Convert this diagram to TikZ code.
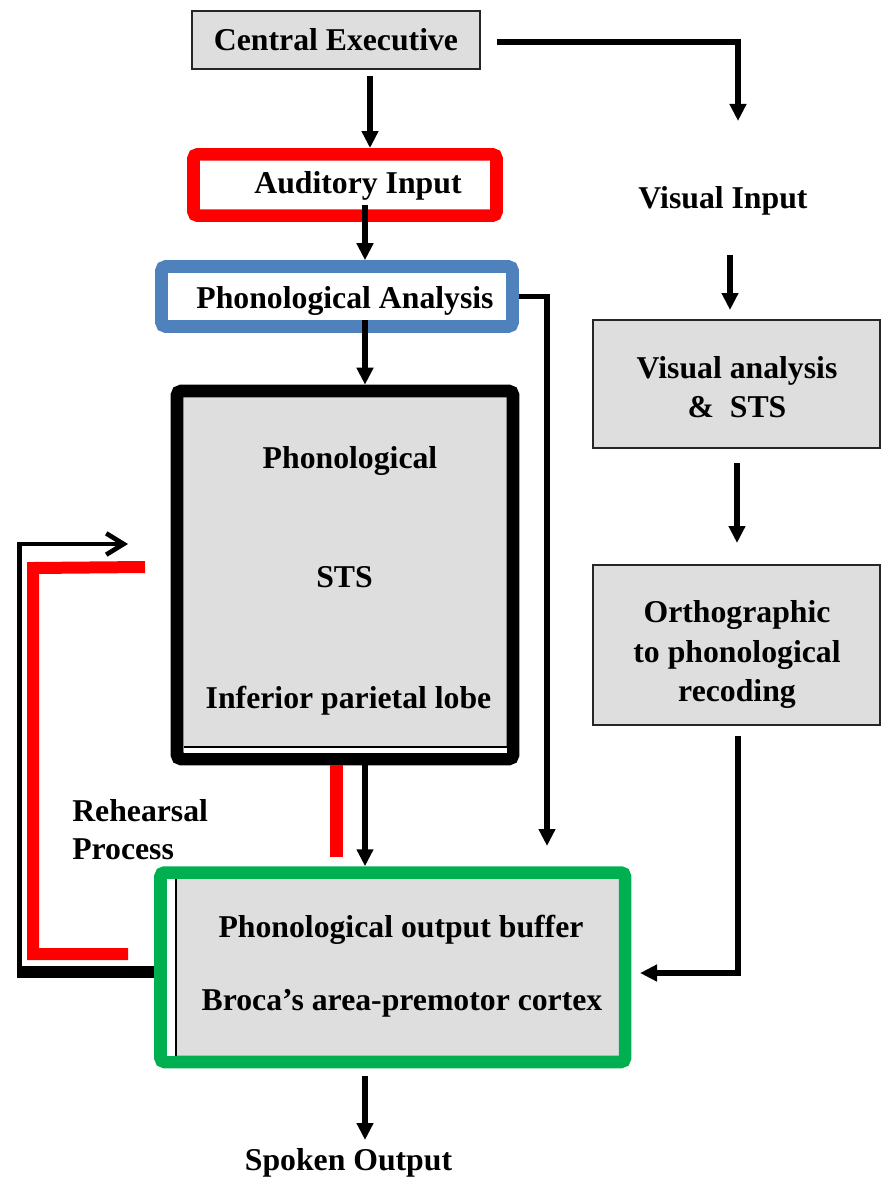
\documentclass[tikz,border=0pt]{standalone}
\usepackage{fontspec}
\setmainfont{Liberation Serif}
\usetikzlibrary{arrows.meta}
\definecolor{boxgray}{HTML}{DEDEDE}
\definecolor{inred}{HTML}{FF0000}
\definecolor{anblue}{HTML}{4F81BD}
\definecolor{outgreen}{HTML}{00B050}

\begin{document}
\begin{tikzpicture}[x=0.75pt,y=-0.75pt,
  lbl/.style={font=\fontsize{23.8}{29.6}\selectfont\bfseries, inner sep=0pt, align=center},
  greybox/.style={draw=black!85, line width=1.5pt, fill=boxgray, inner sep=0pt},
  heavybox/.style={line width=9.4pt, rounded corners=3pt, inner sep=0pt},
  arr/.style={line width=3.8pt, -{Triangle[length=12.75pt,width=12pt]}},
  loopArr/.style={line width=3.5pt, -{Straight Barb[length=13pt,width=16pt]}},
  redline/.style={draw=inred, line width=9.5pt},
]
\useasboundingbox (0,0) rectangle (885,1177);

% ---- boxes ----
\node[greybox, lbl, minimum width=216pt, minimum height=43.5pt] (ce) at (336,40) {Central Executive};

\node[heavybox, draw=inred, minimum width=227.25pt, minimum height=46pt] (ai) at (345,185) {};
\node[lbl, anchor=base] (aitext) at (358,193.5) {Auditory Input};

\node[heavybox, draw=anblue, minimum width=263.25pt, minimum height=45pt] (pa) at (337,296.5) {};
\node[lbl, anchor=base] (patext) at (345,308.5) {Phonological Analysis};

% phonological store
\node[heavybox, draw=black, fill=boxgray, minimum width=252pt, minimum height=276pt] (big) at (345,575) {};
\fill[white] (183.5,747) rectangle (506.5,752.5);
\draw[line width=1.5pt] (183.5,746.5) -- (506.5,746.5);
\node[lbl, anchor=base] (bigA) at (350,468.5) {Phonological};
\node[lbl, anchor=base] (bigB) at (344.5,587.5) {STS};
\node[lbl, anchor=base] (bigC) at (348.5,708.5) {Inferior parietal lobe};

% output buffer
\node[heavybox, draw=outgreen, fill=boxgray, minimum width=348.4pt, minimum height=142.1pt] (green) at (392.75,967.25) {};
\fill[white] (167,879) rectangle (175.5,1055.5);
\draw[line width=1.5pt] (176,879) -- (176,1055.5);
\node[lbl, anchor=base] (grA) at (401,937.5) {Phonological output buffer};
\node[lbl, anchor=base] (grB) at (402,1010.5) {Broca’s area-premotor cortex};

\node[lbl, anchor=base] (spoken) at (348.5,1170.5) {Spoken Output};

% visual route
\node[lbl, anchor=base] (vi) at (723,208.5) {Visual Input};
\node[greybox, minimum width=215.25pt, minimum height=96pt] (va) at (736.5,384) {};
\node[lbl] (vatext) at (737,387) {Visual analysis\\\&~ STS};
\node[greybox, minimum width=215.25pt, minimum height=120pt] (or) at (736.5,645) {};
\node[lbl] (ortext) at (737,654.5) {Orthographic\\to phonological\\recoding};

\node[lbl, align=left, anchor=west] (reh) at (72,829.5) {Rehearsal\\[-1.2pt]Process};

% ---- connectors ----
\coordinate (ceDown) at (370,76);
\draw[arr] (ceDown) -- (ceDown |- ai.north);

\coordinate (ceRight) at (497,42);
\coordinate (viTop) at (738,121);
\draw[arr] (ceRight) -| (viTop);

\coordinate (aiOut) at (365,205);
\draw[arr] (aiOut) -- (aiOut |- pa.north);

\coordinate (paOut) at (365,320);
\draw[arr] (paOut) -- (paOut |- big.north);

\coordinate (paSide) at (547,846);
\draw[arr] (pa.east) -| (paSide);

\coordinate (midX) at (365,0);
\draw[arr] (big.south -| midX) -- (green.north -| midX);

\coordinate (redX) at (336.5,0);
\coordinate (redEnd) at (336.5,857);
\draw[redline] (big.south -| redX) -- (redEnd);

\coordinate (spA) at (365,1076);
\coordinate (spB) at (365,1140);
\draw[arr] (spA) -- (spB);

\coordinate (viA) at (730,255);
\coordinate (viB) at (730,310);
\draw[arr] (viA) -- (viB);

\coordinate (vaA) at (737,463);
\coordinate (vaB) at (737,543);
\draw[arr] (vaA) -- (vaB);

\coordinate (orA) at (738,736);
\coordinate (grIn) at (640,973);
\draw[arr] (orA) |- (grIn);

% rehearsal loop
\coordinate (loopL) at (17.3,971.5);
\draw[line width=9pt] (green.west |- loopL) -- (loopL);
\coordinate (loopBot) at (19.7,971);
\coordinate (loopTip) at (128,544);
\draw[loopArr] (loopBot) |- (loopTip);

\coordinate (rA) at (145,567);
\coordinate (rB) at (33,568);
\coordinate (rC) at (33,954);
\coordinate (rD) at (128,954);
\draw[redline, line width=9pt] (rA) -- (rB) -- (rC) -- (rD);
\end{tikzpicture}
\end{document}
